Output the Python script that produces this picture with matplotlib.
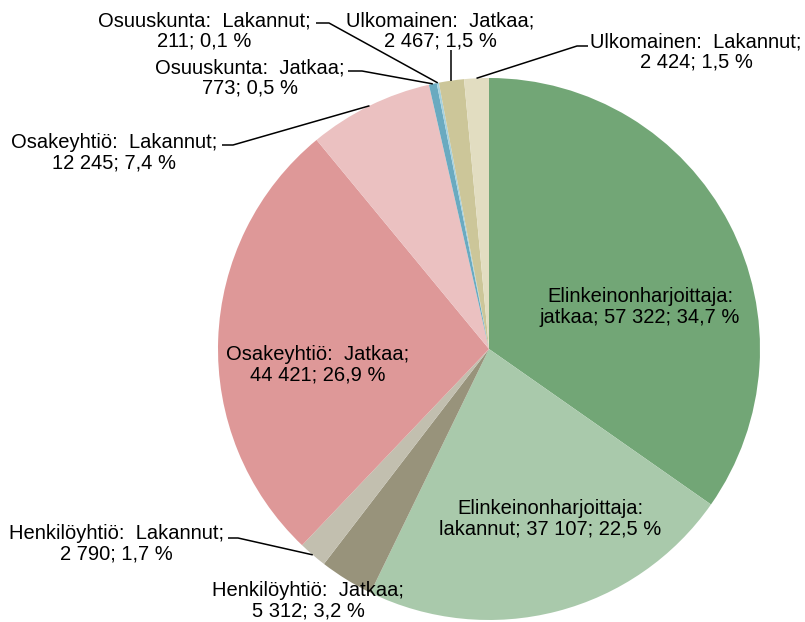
#!/usr/bin/env python3
"""Pie chart: enterprises by legal form and status (continues / ceased)."""

import matplotlib

matplotlib.use("Agg")

import matplotlib.pyplot as plt
import numpy as np

plt.rcParams["font.family"] = ["Liberation Sans", "DejaVu Sans"]

# data, clockwise from 12 o'clock
LABEL_HEADS = [
    "Elinkeinonharjoittaja:\njatkaa;",
    "Elinkeinonharjoittaja:\nlakannut;",
    "Henkilöyhtiö:  Jatkaa;",
    "Henkilöyhtiö:  Lakannut;",
    "Osakeyhtiö:  Jatkaa;",
    "Osakeyhtiö:  Lakannut;",
    "Osuuskunta:  Jatkaa;",
    "Osuuskunta:  Lakannut;",
    "Ulkomainen:  Jatkaa;",
    "Ulkomainen:  Lakannut;",
]
VALUES = [57322, 37107, 5312, 2790, 44421, 12245, 773, 211, 2467, 2424]
COLORS = [
    "#72A676", "#A9C9AB", "#98937B", "#C2BFAF", "#DE9898",
    "#EBC1C1", "#6AAAC0", "#A5D1DE", "#CCC699", "#E2DDC1",
]

W, H = 805, 622
CENTER = (489, 349)  # image coords
RADIUS = 271

# label centre (image coords) and leader elbow points (None = inside label)
LABEL_POS = [
    (640, 307), (550, 519), (308, 601), (116, 544), (318, 365),
    (114, 153), (250, 78), (204, 31), (440, 31), (696, 52),
]
LEADERS = {
    3: [(228, 538), (238, 538)],
    5: [(222, 145), (233, 145)],
    6: [(348, 71), (362, 71)],
    7: [(316, 23), (329, 23)],
    8: [(None, 50)],
    9: [(588, 46), (577, 46)],
}


def fmt_value(v: int) -> str:
    return f"{v:,}".replace(",", " ")


def fmt_pct(p: float) -> str:
    return f"{p:.1f}".replace(".", ",")


def yy(y: float) -> float:
    return H - y


def main() -> None:
    fig = plt.figure(figsize=(W / 100, H / 100), dpi=100)
    ax = fig.add_axes([0, 0, 1, 1])
    total = sum(VALUES)

    ax.pie(
        VALUES,
        colors=COLORS,
        startangle=90,
        counterclock=False,
        center=(CENTER[0], yy(CENTER[1])),
        radius=RADIUS,
        wedgeprops={"linewidth": 0},
        frame=True,
    )
    ax.set_xlim(0, W)
    ax.set_ylim(0, H)
    ax.set_aspect("equal")
    ax.axis("off")

    cum = np.cumsum([0] + VALUES) / total
    for i, (head, v) in enumerate(zip(LABEL_HEADS, VALUES)):
        sep = " " if "\n" in head else "\n"
        text = f"{head}{sep}{fmt_value(v)}; {fmt_pct(v / total * 100)} %"
        x, y = LABEL_POS[i]
        ax.text(
            x, yy(y), text,
            ha="center", va="center", multialignment="center",
            fontsize=14.5, linespacing=1.12, color="black",
        )

        if i in LEADERS:
            mid = (cum[i] + cum[i + 1]) / 2 * 2 * np.pi
            ex = CENTER[0] + RADIUS * np.sin(mid)
            ey = CENTER[1] - RADIUS * np.cos(mid)
            pts = [(ex if px is None else px, py) for px, py in LEADERS[i]]
            pts.append((ex, ey))
            ax.plot(
                [p[0] for p in pts], [yy(p[1]) for p in pts],
                color="black", linewidth=1.1, solid_capstyle="butt",
            )

    fig.savefig("out.png", dpi=100)
    plt.close(fig)


if __name__ == "__main__":
    main()
